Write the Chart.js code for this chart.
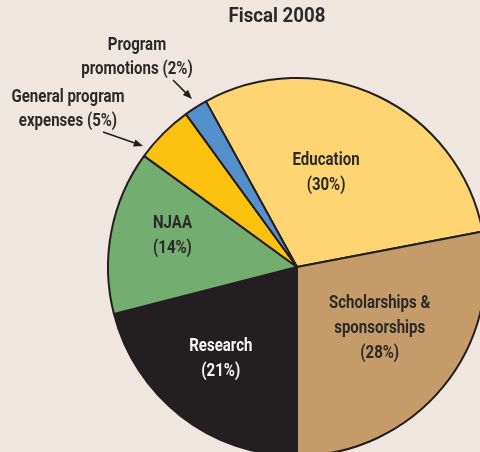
<!DOCTYPE html>
<html>
<head>
<meta charset="utf-8">
<script src="https://cdn.jsdelivr.net/npm/chart.js@4"></script>
<style>
  html, body { margin: 0; padding: 0; width: 480px; height: 452px; overflow: hidden; background: #efe7df; }
  #wrap { position: absolute; left: 0; top: 0; }
</style>
</head>
<body>
<div id="wrap"><canvas id="pie" width="490" height="460"></canvas></div>
<script>
// Spending by category, fiscal 2008 (percent)
const categories = [
  ["Education"],
  ["Scholarships &", "sponsorships"],
  ["Research"],
  ["NJAA"],
  ["General program", "expenses"],
  ["Program", "promotions"]
];
const shares = [30, 28, 21, 14, 5, 2];
const sliceColors = ["#ffd573", "#c59b6a", "#231f20", "#73ad6f", "#fdc10f", "#5490cc"];
const textColors = ["#2b2a29", "#2b2a29", "#f4f4f4", "#2b2a29"];

const FONT = "bold 19px Roboto, 'DejaVu Sans', sans-serif";
const LINE = 25;

// where the inside labels sit: angle shift (deg) and fraction of radius
const inside = [
  { shift: -8, r: 0.52 },
  { shift: -3, r: 0.545 },
  { shift: 2, r: 0.63 },
  { shift: 3.5, r: 0.68 }
];

// outside labels with arrows (slice index 4 and 5)
const callouts = {
  4: { x: 68, y: 97, from: [103, 132], to: [143, 146] },
  5: { x: 137, y: 45, from: [173, 80], to: [192, 99] }
};

// condensed look: squeeze text horizontally
let squeeze = 1;
function narrowText(ctx, t, x, y, sx) {
  ctx.save();
  ctx.translate(x, y);
  ctx.scale(sx, 1);
  ctx.fillText(t, 0, 0);
  ctx.restore();
}

function drawArrow(ctx, a, b) {
  const ang = Math.atan2(b[1] - a[1], b[0] - a[0]);
  const head = 10;
  ctx.beginPath();
  ctx.moveTo(a[0], a[1]);
  ctx.lineTo(b[0] - Math.cos(ang) * head * 0.8, b[1] - Math.sin(ang) * head * 0.8);
  ctx.lineWidth = 1.6;
  ctx.strokeStyle = "#231f20";
  ctx.stroke();
  ctx.beginPath();
  ctx.moveTo(b[0], b[1]);
  ctx.lineTo(b[0] - Math.cos(ang - 0.38) * head, b[1] - Math.sin(ang - 0.38) * head);
  ctx.lineTo(b[0] - Math.cos(ang + 0.38) * head, b[1] - Math.sin(ang + 0.38) * head);
  ctx.closePath();
  ctx.fillStyle = "#231f20";
  ctx.fill();
}

const labelPlugin = {
  id: "sliceLabels",
  afterDraw(chart) {
    const ctx = chart.ctx;
    const arcs = chart.getDatasetMeta(0).data;
    ctx.save();
    ctx.font = FONT;
    ctx.textAlign = "center";
    ctx.textBaseline = "middle";
    squeeze = 67 / ctx.measureText("Education").width;

    arcs.forEach((arc, i) => {
      const lines = categories[i].slice();
      if (inside[i]) {
        lines.push(`(${shares[i]}%)`);
        const p = arc.getProps(["x", "y", "startAngle", "endAngle", "outerRadius"]);
        const mid = (p.startAngle + p.endAngle) / 2 + inside[i].shift * Math.PI / 180;
        const cx = p.x + Math.cos(mid) * p.outerRadius * inside[i].r;
        const cy = p.y + Math.sin(mid) * p.outerRadius * inside[i].r;
        ctx.fillStyle = textColors[i];
        lines.forEach((t, k) => {
          narrowText(ctx, t, cx, cy + (k - (lines.length - 1) / 2) * LINE, squeeze);
        });
      } else if (callouts[i]) {
        const c = callouts[i];
        lines[lines.length - 1] += ` (${shares[i]}%)`;
        ctx.fillStyle = "#2b2a29";
        lines.forEach((t, k) => narrowText(ctx, t, c.x, c.y + k * 24, squeeze));
        drawArrow(ctx, c.from, c.to);
      }
    });

    // subtitle
    ctx.font = "bold 21px Roboto, 'DejaVu Sans', sans-serif";
    ctx.fillStyle = "#2b2a29";
    narrowText(ctx, "Fiscal 2008", 277, 17, 97 / ctx.measureText("Fiscal 2008").width);
    ctx.restore();
  }
};

new Chart(document.getElementById("pie"), {
  type: "pie",
  data: {
    labels: categories,
    datasets: [{
      data: shares,
      backgroundColor: sliceColors,
      borderColor: "#231f20",
      borderWidth: 2
    }]
  },
  options: {
    responsive: false,
    animation: false,
    rotation: -28.8,
    layout: { padding: { left: 107, top: 77, right: 3, bottom: 3 } },
    plugins: {
      legend: { display: false },
      tooltip: { enabled: false }
    }
  },
  plugins: [labelPlugin]
});
</script>
</body>
</html>
